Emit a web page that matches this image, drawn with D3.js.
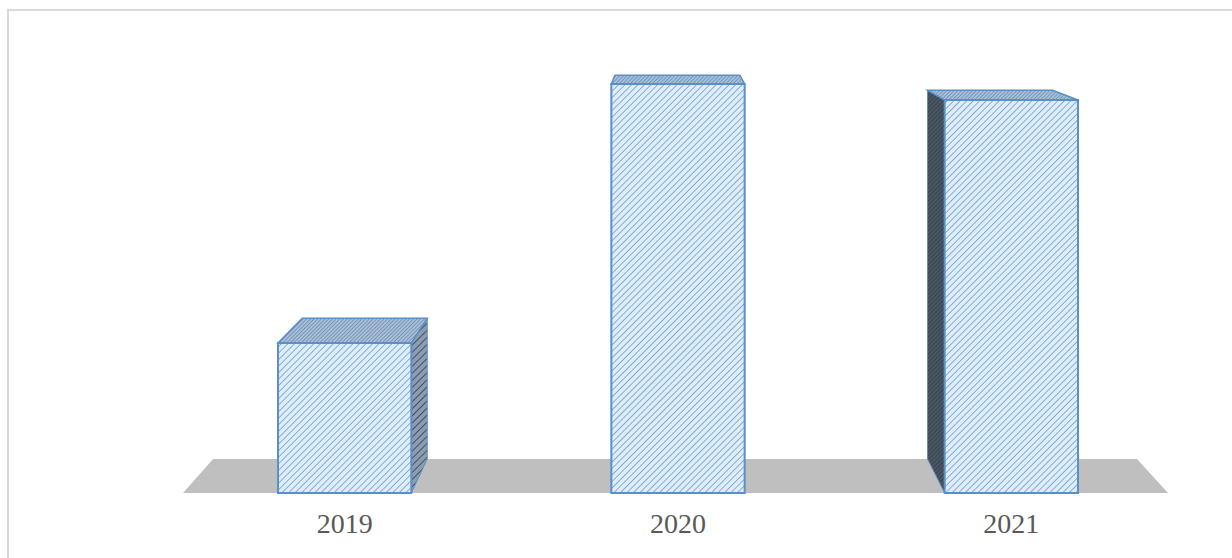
<!DOCTYPE html>
<html><head><meta charset="utf-8">
<script src="https://cdn.jsdelivr.net/npm/d3@7/dist/d3.min.js"></script>
<style>html,body{margin:0;padding:0;background:#fff;}svg{display:block;}</style>
</head><body>
<script>
const categories = ["2019", "2020", "2021"];
const values = [36.7, 100, 96.1];

const W = 1232, H = 558;
const svg = d3.select("body").append("svg").attr("width", W).attr("height", H);
const defs = svg.append("defs");

function stripe(id, bg, fg, size, sw) {
  const p = defs.append("pattern").attr("id", id).attr("patternUnits", "userSpaceOnUse")
    .attr("width", size).attr("height", size).attr("patternTransform", "rotate(45)");
  p.append("rect").attr("width", size).attr("height", size).attr("fill", bg);
  p.append("line").attr("x1", 0).attr("y1", 0).attr("x2", 0).attr("y2", size)
    .attr("stroke", fg).attr("stroke-width", sw);
}
stripe("front", "#dcedfb", "#7195c4", 4.6, 1.5);
stripe("top", "#a9bfd8", "#5f7fa8", 2.6, 1.2);
stripe("sideR", "#8d9db0", "#3d4f66", 5, 2);
stripe("sideL", "#4a5662", "#2c3742", 3, 1.2);

// frame
svg.append("path").attr("d", `M8,${H} L8,10 L${W},10`).attr("fill", "none")
  .attr("stroke", "#d9d9d9").attr("stroke-width", 2);

const x = d3.scaleBand().domain(categories).range([178, 1178]).paddingInner(0.6).paddingOuter(0.3);
const baseY = 493;
const y = d3.scaleLinear().domain([0, 100]).range([baseY, 84]);

// perspective: point at depth 1 pulled toward vanishing point
const VP = [668, -56], s = 0.938;
const back = ([px, py]) => [VP[0] + (px - VP[0]) * s, VP[1] + (py - VP[1]) * s];
const poly = pts => "M" + pts.map(p => p.join(",")).join("L") + "Z";

// floor
const fl = [[183, baseY], [1168, baseY]];
svg.append("path").attr("d", poly([fl[0], fl[1], back(fl[1]), back(fl[0])])).attr("fill", "#bfbfbf");

const g = svg.append("g");
categories.forEach((c, i) => {
  const x0 = x(c), x1 = x(c) + x.bandwidth(), yt = y(values[i]);
  const FTL = [x0, yt], FTR = [x1, yt], FBL = [x0, baseY], FBR = [x1, baseY];
  const BTL = back(FTL), BTR = back(FTR), BBL = back(FBL), BBR = back(FBR);
  const stroke = "#5b8fc9";
  // side faces
  if (x1 < VP[0]) {
    g.append("path").attr("d", poly([FTR, BTR, BBR, FBR])).attr("fill", "url(#sideR)")
      .attr("stroke", stroke).attr("stroke-width", 1);
  }
  if (x0 > VP[0]) {
    g.append("path").attr("d", poly([FTL, BTL, BBL, FBL])).attr("fill", "url(#sideL)")
      .attr("stroke", stroke).attr("stroke-width", 1);
  }
  // top face
  g.append("path").attr("d", poly([FTL, FTR, BTR, BTL])).attr("fill", "url(#top)")
    .attr("stroke", stroke).attr("stroke-width", 1.5);
  // front face
  g.append("path").attr("d", poly([FTL, FTR, FBR, FBL])).attr("fill", "url(#front)")
    .attr("stroke", stroke).attr("stroke-width", 2);
});

// axis labels
const ax = svg.append("g").attr("transform", `translate(0,${baseY})`)
  .call(d3.axisBottom(x).tickSize(0).tickPadding(40));
ax.select(".domain").remove();
ax.selectAll("text").attr("font-family", "'Liberation Serif','Times New Roman',serif")
  .attr("font-size", 28).attr("fill", "#595959").attr("dy", 0);
</script>
</body></html>
